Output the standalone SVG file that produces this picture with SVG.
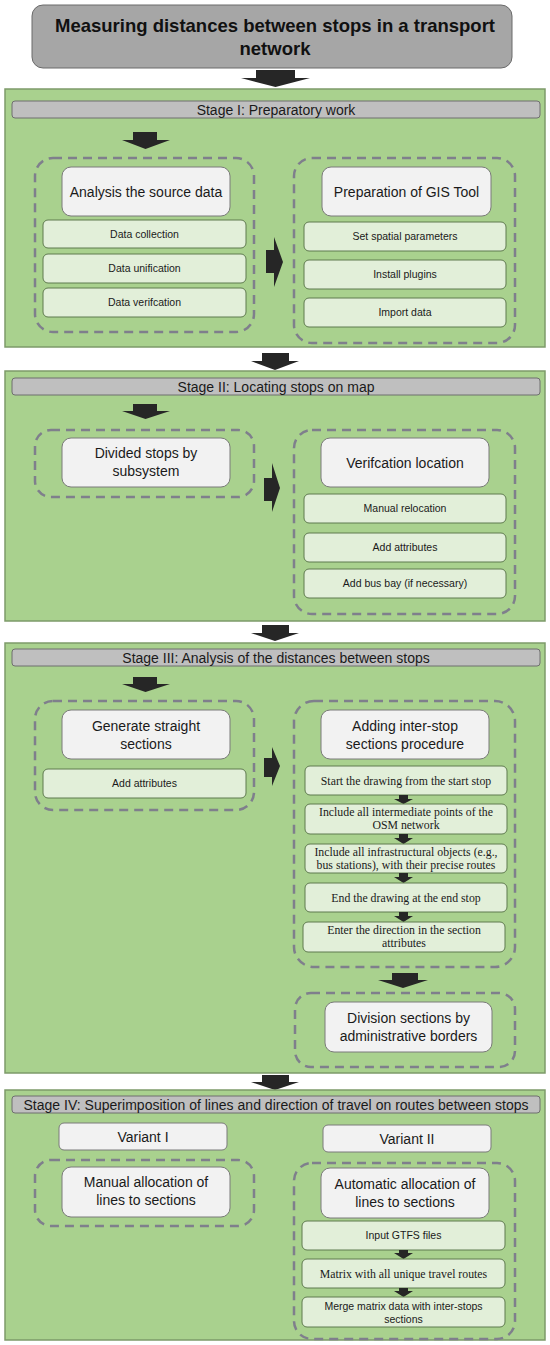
<svg xmlns="http://www.w3.org/2000/svg" width="550" height="1345" viewBox="0 0 550 1345">
<style>
.panel{fill:#a9d18e;stroke:#7d9a69;stroke-width:1.5}
.hdr{fill:#bfbfbf;stroke:#6f6f6f;stroke-width:1}
.dash{fill:none;stroke:#7f7f8c;stroke-width:2.5;stroke-dasharray:9 6}
.main{fill:#f2f2f2;stroke:#7a7a7a;stroke-width:1}
.sub{fill:#e2efd9;stroke:#5f7a4f;stroke-width:1}
.arr{fill:#262626}
text{font-family:"Liberation Sans",Arial,sans-serif;fill:#1a1a1a;text-anchor:middle}
.t{font-size:18.5px;font-weight:bold;fill:#111}
.h{font-size:14px}
.m{font-size:14px}
.s{font-size:10.5px}
.r{font-family:"Liberation Serif","Times New Roman",serif;font-size:11.8px}
</style>
<rect width="550" height="1345" fill="#ffffff"/>
<g id="title">
<rect x="32" y="5" width="480" height="63" rx="11" fill="#a6a6a6" stroke="#6a6a6a" stroke-width="1"/>
<text class="t" x="275" y="32">Measuring distances between stops in a transport</text>
<text class="t" x="275" y="55">network</text>
</g>
<g id="connectors">
<polygon class="arr" points="256,70 295,70 295,78 310,78 275.5,87 241,78 256,78"/>
<polygon class="arr" points="262,353 289,353 289,361 299,361 275,370 251,361 262,361"/>
<polygon class="arr" points="262,625 289,625 289,633 299,633 275,641 251,633 262,633"/>
<polygon class="arr" points="262,1075 289,1075 289,1082 299,1082 275,1090 251,1082 262,1082"/>
</g>
<g id="stage1">
<rect class="panel" x="5" y="89" width="540" height="258"/>
<rect class="hdr" x="12" y="101" width="528" height="17" rx="3"/>
<text class="h" x="276" y="114.5">Stage I: Preparatory work</text>
<polygon class="arr" points="133,132 157,132 157,140 170,140 145.5,149 122,140 133,140"/>
<rect class="dash" x="35" y="158" width="219" height="174" rx="18"/>
<rect class="dash" x="294" y="158" width="221" height="185" rx="18"/>
<polygon class="arr" points="266,250 274,250 274,237 283,262 274,287 274,273 266,273"/>
<g id="analysis"><rect class="main" x="62" y="167" width="168" height="49" rx="9"/><text class="m" x="146" y="196.5">Analysis the source data</text></g>
<g id="collection"><rect class="sub" x="43" y="220" width="203" height="28" rx="5"/><text class="s" x="144.5" y="238">Data collection</text></g>
<g id="unification"><rect class="sub" x="43" y="254" width="203" height="29" rx="5"/><text class="s" x="144.5" y="272">Data unification</text></g>
<g id="verification"><rect class="sub" x="43" y="288" width="203" height="29" rx="5"/><text class="s" x="144.5" y="306">Data verifcation</text></g>
<g id="gis"><rect class="main" x="322" y="167" width="169" height="49" rx="9"/><text class="m" x="406.5" y="196.5">Preparation of GIS Tool</text></g>
<g id="spatial"><rect class="sub" x="304" y="222" width="202" height="29" rx="5"/><text class="s" x="405" y="240">Set spatial parameters</text></g>
<g id="plugins"><rect class="sub" x="304" y="260" width="202" height="29" rx="5"/><text class="s" x="405" y="278">Install plugins</text></g>
<g id="import"><rect class="sub" x="304" y="298" width="202" height="29" rx="5"/><text class="s" x="405" y="316">Import data</text></g>
</g>
<g id="stage2">
<rect class="panel" x="5" y="371" width="540" height="250"/>
<rect class="hdr" x="12" y="378" width="528" height="17" rx="3"/>
<text class="h" x="276" y="391.5">Stage II: Locating stops on map</text>
<polygon class="arr" points="133,404 157,404 157,411 170,411 145.5,419 122,411 133,411"/>
<rect class="dash" x="35" y="430" width="219" height="67" rx="16"/>
<rect class="dash" x="294" y="430" width="221" height="184" rx="18"/>
<polygon class="arr" points="264,478 272,478 272,463 280,488 272,512 272,501 264,501"/>
<g id="divided"><rect class="main" x="62" y="438" width="168" height="49" rx="9"/><text class="m" x="146" y="458">Divided stops by</text><text class="m" x="146" y="476">subsystem</text></g>
<g id="verifloc"><rect class="main" x="321" y="438" width="168" height="49" rx="9"/><text class="m" x="405" y="467.5">Verifcation location</text></g>
<g id="relocation"><rect class="sub" x="304" y="494" width="202" height="29" rx="5"/><text class="s" x="405" y="512">Manual relocation</text></g>
<g id="attr2"><rect class="sub" x="304" y="533" width="202" height="29" rx="5"/><text class="s" x="405" y="551">Add attributes</text></g>
<g id="busbay"><rect class="sub" x="304" y="569" width="202" height="29" rx="5"/><text class="s" x="405" y="587">Add bus bay (if necessary)</text></g>
</g>
<g id="stage3">
<rect class="panel" x="5" y="643" width="540" height="430"/>
<rect class="hdr" x="12" y="649" width="528" height="17" rx="3"/>
<text class="h" x="276" y="662.5">Stage III: Analysis of the distances between stops</text>
<polygon class="arr" points="133,677 157,677 157,684 170,684 145.5,692 122,684 133,684"/>
<rect class="dash" x="35" y="701" width="219" height="109" rx="18"/>
<rect class="dash" x="294" y="701" width="221" height="266" rx="20"/>
<polygon class="arr" points="264,758 272,758 272,747 280,766 272,786 272,777 264,777"/>
<g id="straight"><rect class="main" x="62" y="710" width="168" height="49" rx="9"/><text class="m" x="146" y="731">Generate straight</text><text class="m" x="146" y="749">sections</text></g>
<g id="attr3"><rect class="sub" x="43" y="769" width="203" height="29" rx="5"/><text class="s" x="144.5" y="787">Add attributes</text></g>
<g id="adding"><rect class="main" x="321" y="710" width="168" height="49" rx="9"/><text class="m" x="405" y="731">Adding inter-stop</text><text class="m" x="405" y="749">sections procedure</text></g>
<g id="startdraw"><rect class="sub" x="305" y="766" width="202" height="29" rx="5"/><text class="r" x="406" y="784.5">Start the drawing  from the start stop</text></g>
<polygon class="arr" points="399,795 408,795 408,799 413,799 403.5,804 394,799 399,799"/>
<g id="intermediate"><rect class="sub" x="305" y="804" width="202" height="30" rx="5"/><text class="r" x="406" y="816">Include all intermediate points of the</text><text class="r" x="406" y="829">OSM network</text></g>
<polygon class="arr" points="399,834 408,834 408,838 413,838 403.5,844 394,838 399,838"/>
<g id="infra"><rect class="sub" x="305" y="844" width="202" height="29" rx="5"/><text class="r" x="406" y="856">Include all infrastructural objects (e.g.,</text><text class="r" x="406" y="869">bus stations), with their precise routes</text></g>
<polygon class="arr" points="399,873 408,873 408,877 413,877 403.5,883 394,877 399,877"/>
<g id="enddraw"><rect class="sub" x="305" y="883" width="202" height="29" rx="5"/><text class="r" x="406" y="901.5">End the drawing  at the end stop</text></g>
<polygon class="arr" points="399,912 408,912 408,916 413,916 403.5,922 394,916 399,916"/>
<g id="direction"><rect class="sub" x="303" y="922" width="202" height="30" rx="5"/><text class="r" x="404" y="934">Enter the direction in the section</text><text class="r" x="404" y="947">attributes</text></g>
<polygon class="arr" points="392,973 418,973 418,980 428,980 403,988 378,980 392,980"/>
<rect class="dash" x="295" y="993" width="220" height="74" rx="16"/>
<g id="division"><rect class="main" x="325" y="1002" width="167" height="50" rx="9"/><text class="m" x="408.5" y="1023">Division sections by</text><text class="m" x="408.5" y="1041">administrative borders</text></g>
</g>
<g id="stage4">
<rect class="panel" x="5" y="1090" width="540" height="250"/>
<rect class="hdr" x="12" y="1096" width="528" height="17" rx="3"/>
<text class="h" x="276" y="1109.5" textLength="505" lengthAdjust="spacing">Stage IV: Superimposition of lines and direction of travel on routes between stops</text>
<g id="variant1"><rect class="main" x="59" y="1123" width="168" height="27" rx="5"/><text class="m" x="143" y="1141.5">Variant I</text></g>
<g id="variant2"><rect class="main" x="323" y="1125" width="168" height="27" rx="5"/><text class="m" x="407" y="1143.5">Variant II</text></g>
<rect class="dash" x="35" y="1160" width="219" height="66" rx="16"/>
<rect class="dash" x="294" y="1163" width="221" height="176" rx="18"/>
<g id="manualalloc"><rect class="main" x="62" y="1167" width="168" height="50" rx="9"/><text class="m" x="146" y="1187">Manual allocation of</text><text class="m" x="146" y="1205">lines to sections</text></g>
<g id="autoalloc"><rect class="main" x="321" y="1168" width="168" height="50" rx="9"/><text class="m" x="405" y="1189">Automatic allocation of</text><text class="m" x="405" y="1207">lines to sections</text></g>
<g id="gtfs"><rect class="sub" x="302" y="1221" width="203" height="29" rx="5"/><text class="s" x="403.5" y="1239">Input GTFS files</text></g>
<polygon class="arr" points="399,1250 408,1250 408,1253 413,1253 403.5,1259 394,1253 399,1253"/>
<g id="matrix"><rect class="sub" x="302" y="1259" width="203" height="29" rx="5"/><text class="r" x="403.5" y="1277.5">Matrix with all unique travel routes</text></g>
<polygon class="arr" points="399,1288 408,1288 408,1291 413,1291 403.5,1297 394,1291 399,1291"/>
<g id="merge"><rect class="sub" x="302" y="1297" width="203" height="30" rx="5"/><text class="s" x="403.5" y="1310">Merge matrix data with inter-stops</text><text class="s" x="403.5" y="1323">sections</text></g>
</g>
</svg>
